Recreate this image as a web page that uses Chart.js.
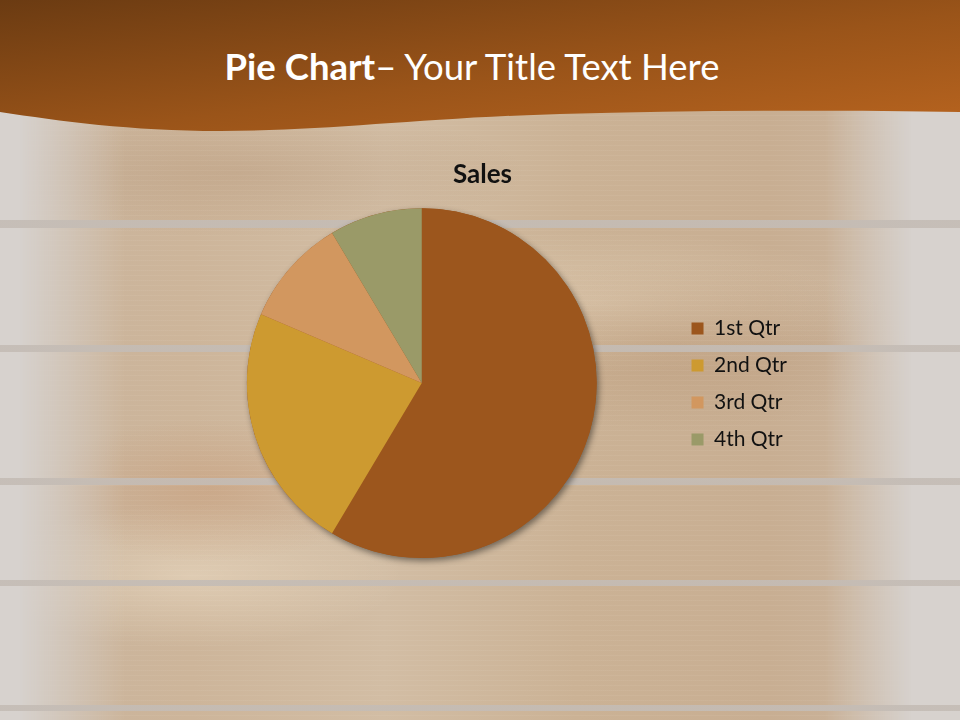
<!DOCTYPE html>
<html>
<head>
<meta charset="utf-8">
<script src="https://cdn.jsdelivr.net/npm/chart.js@4.4.1/dist/chart.umd.min.js"></script>
<style>
  html, body { margin:0; padding:0; }
  body { width:960px; height:720px; position:relative; overflow:hidden; background:#d7d2ce; font-family: Lato, "Noto Sans", sans-serif; }
  #wood { position:absolute; left:0; top:0; width:960px; height:720px;
    background:
      repeating-linear-gradient(to bottom, rgba(255,250,240,0.05) 0px, rgba(255,250,240,0.05) 1px, rgba(0,0,0,0) 1px, rgba(0,0,0,0) 5px),
      radial-gradient(ellipse 18% 10% at 22% 68%, rgba(190,110,60,0.18), rgba(0,0,0,0)),
      radial-gradient(ellipse 25% 12% at 70% 48%, rgba(150,100,60,0.16), rgba(0,0,0,0)),
      radial-gradient(ellipse 30% 9% at 25% 24%, rgba(140,95,60,0.14), rgba(0,0,0,0)),
      radial-gradient(ellipse 22% 10% at 20% 80%, rgba(255,245,225,0.35), rgba(0,0,0,0)),
      radial-gradient(ellipse 30% 10% at 62% 42%, rgba(255,245,225,0.25), rgba(0,0,0,0)),
      linear-gradient(to right, #c9b49d 0%, #cdb59a 20%, #d2bda4 40%, #cbb295 60%, #c8ae92 80%, #cbb7a2 100%);
    -webkit-mask-image: linear-gradient(to right, rgba(0,0,0,0) 2%, rgba(0,0,0,1) 13%, rgba(0,0,0,1) 86%, rgba(0,0,0,0) 95%);
    mask-image: linear-gradient(to right, rgba(0,0,0,0) 2%, rgba(0,0,0,1) 13%, rgba(0,0,0,1) 86%, rgba(0,0,0,0) 95%);
  }
  #seams { position:absolute; left:0; top:0; width:960px; height:720px;
    background: linear-gradient(to bottom,
        rgba(0,0,0,0) 0px, rgba(0,0,0,0) 220px, rgba(196,188,181,0.9) 220px, rgba(196,188,181,0.9) 228px, rgba(0,0,0,0) 228px,
        rgba(0,0,0,0) 345px, rgba(196,188,181,0.9) 345px, rgba(196,188,181,0.9) 352px, rgba(0,0,0,0) 352px,
        rgba(0,0,0,0) 478px, rgba(196,188,181,0.9) 478px, rgba(196,188,181,0.9) 485px, rgba(0,0,0,0) 485px,
        rgba(0,0,0,0) 580px, rgba(196,188,181,0.9) 580px, rgba(196,188,181,0.9) 586px, rgba(0,0,0,0) 586px,
        rgba(0,0,0,0) 705px, rgba(196,188,181,0.9) 705px, rgba(196,188,181,0.9) 711px, rgba(0,0,0,0) 711px);
  }
  #hdr { position:absolute; left:0; top:0; width:960px; height:140px; }
  #title { position:absolute; left:0; top:44px; width:944px; text-align:center; color:#fff; font-size:36.5px; white-space:nowrap; font-family: Lato, "Open Sans", sans-serif; }
  #title b { font-weight:700; }
  #wrap { position:absolute; left:160px; top:150px; width:640px; height:420px; }
</style>
</head>
<body>
<div id="wood"></div>
<div id="seams"></div>
<svg id="hdr" width="960" height="140" viewBox="0 0 960 140">
  <defs>
    <linearGradient id="hg" x1="0" y1="0" x2="1" y2="1">
      <stop offset="0" stop-color="#6b3b12"/>
      <stop offset="0.55" stop-color="#9a5419"/>
      <stop offset="1" stop-color="#b8641f"/>
    </linearGradient>
  </defs>
  <path d="M0,0 H960 V112 C 840,110 700,110 560,114 C 420,118 330,131 220,131 C 130,131 60,121 0,112 Z" fill="url(#hg)"/>
</svg>
<div id="title"><b>Pie Chart</b>– Your Title Text Here</div>
<div id="wrap"><canvas id="c"></canvas></div>
<script>
const chartTitle = "Sales";
const categories = ["1st Qtr", "2nd Qtr", "3rd Qtr", "4th Qtr"];
const salesValues = [8.2, 3.2, 1.4, 1.2];
const sliceColors = ["#9c561d", "#cd9a30", "#d2975f", "#9a9a68"];

const shadowPlugin = {
  id: 'pieShadow',
  beforeDatasetsDraw(chart) {
    const meta = chart.getDatasetMeta(0);
    if (!meta.data.length) return;
    const a = meta.data[0];
    const ctx = chart.ctx;
    ctx.save();
    ctx.shadowColor = 'rgba(0,0,0,0.45)';
    ctx.shadowBlur = 6;
    ctx.shadowOffsetX = 2;
    ctx.shadowOffsetY = 3;
    ctx.fillStyle = sliceColors[0];
    ctx.beginPath();
    ctx.arc(a.x, a.y, a.outerRadius, 0, Math.PI * 2);
    ctx.fill();
    ctx.restore();
  }
};

new Chart(document.getElementById('c'), {
  type: 'pie',
  data: {
    labels: categories,
    datasets: [{ data: salesValues, backgroundColor: sliceColors, borderWidth: 0, hoverOffset: 0 }]
  },
  options: {
    responsive: true,
    maintainAspectRatio: false,
    animation: false,
    layout: { padding: { left: 8, right: 3, top: 0, bottom: 12 } },
    plugins: {
      title: {
        display: true, text: chartTitle, color: '#111',
        font: { family: 'Lato, "Noto Sans", sans-serif', size: 26, weight: 'bold' },
        padding: { top: 9, bottom: 18 }
      },
      legend: {
        position: 'right',
        title: { display: true, text: ' ', font: { size: 10 }, padding: { top: 48, bottom: 0 } },
        labels: {
          color: '#111',
          font: { family: 'Lato, "Noto Sans", sans-serif', size: 21 },
          boxWidth: 12, boxHeight: 12, padding: 16
        }
      },
      tooltip: { enabled: false }
    }
  },
  plugins: [shadowPlugin]
});
</script>
</body>
</html>
